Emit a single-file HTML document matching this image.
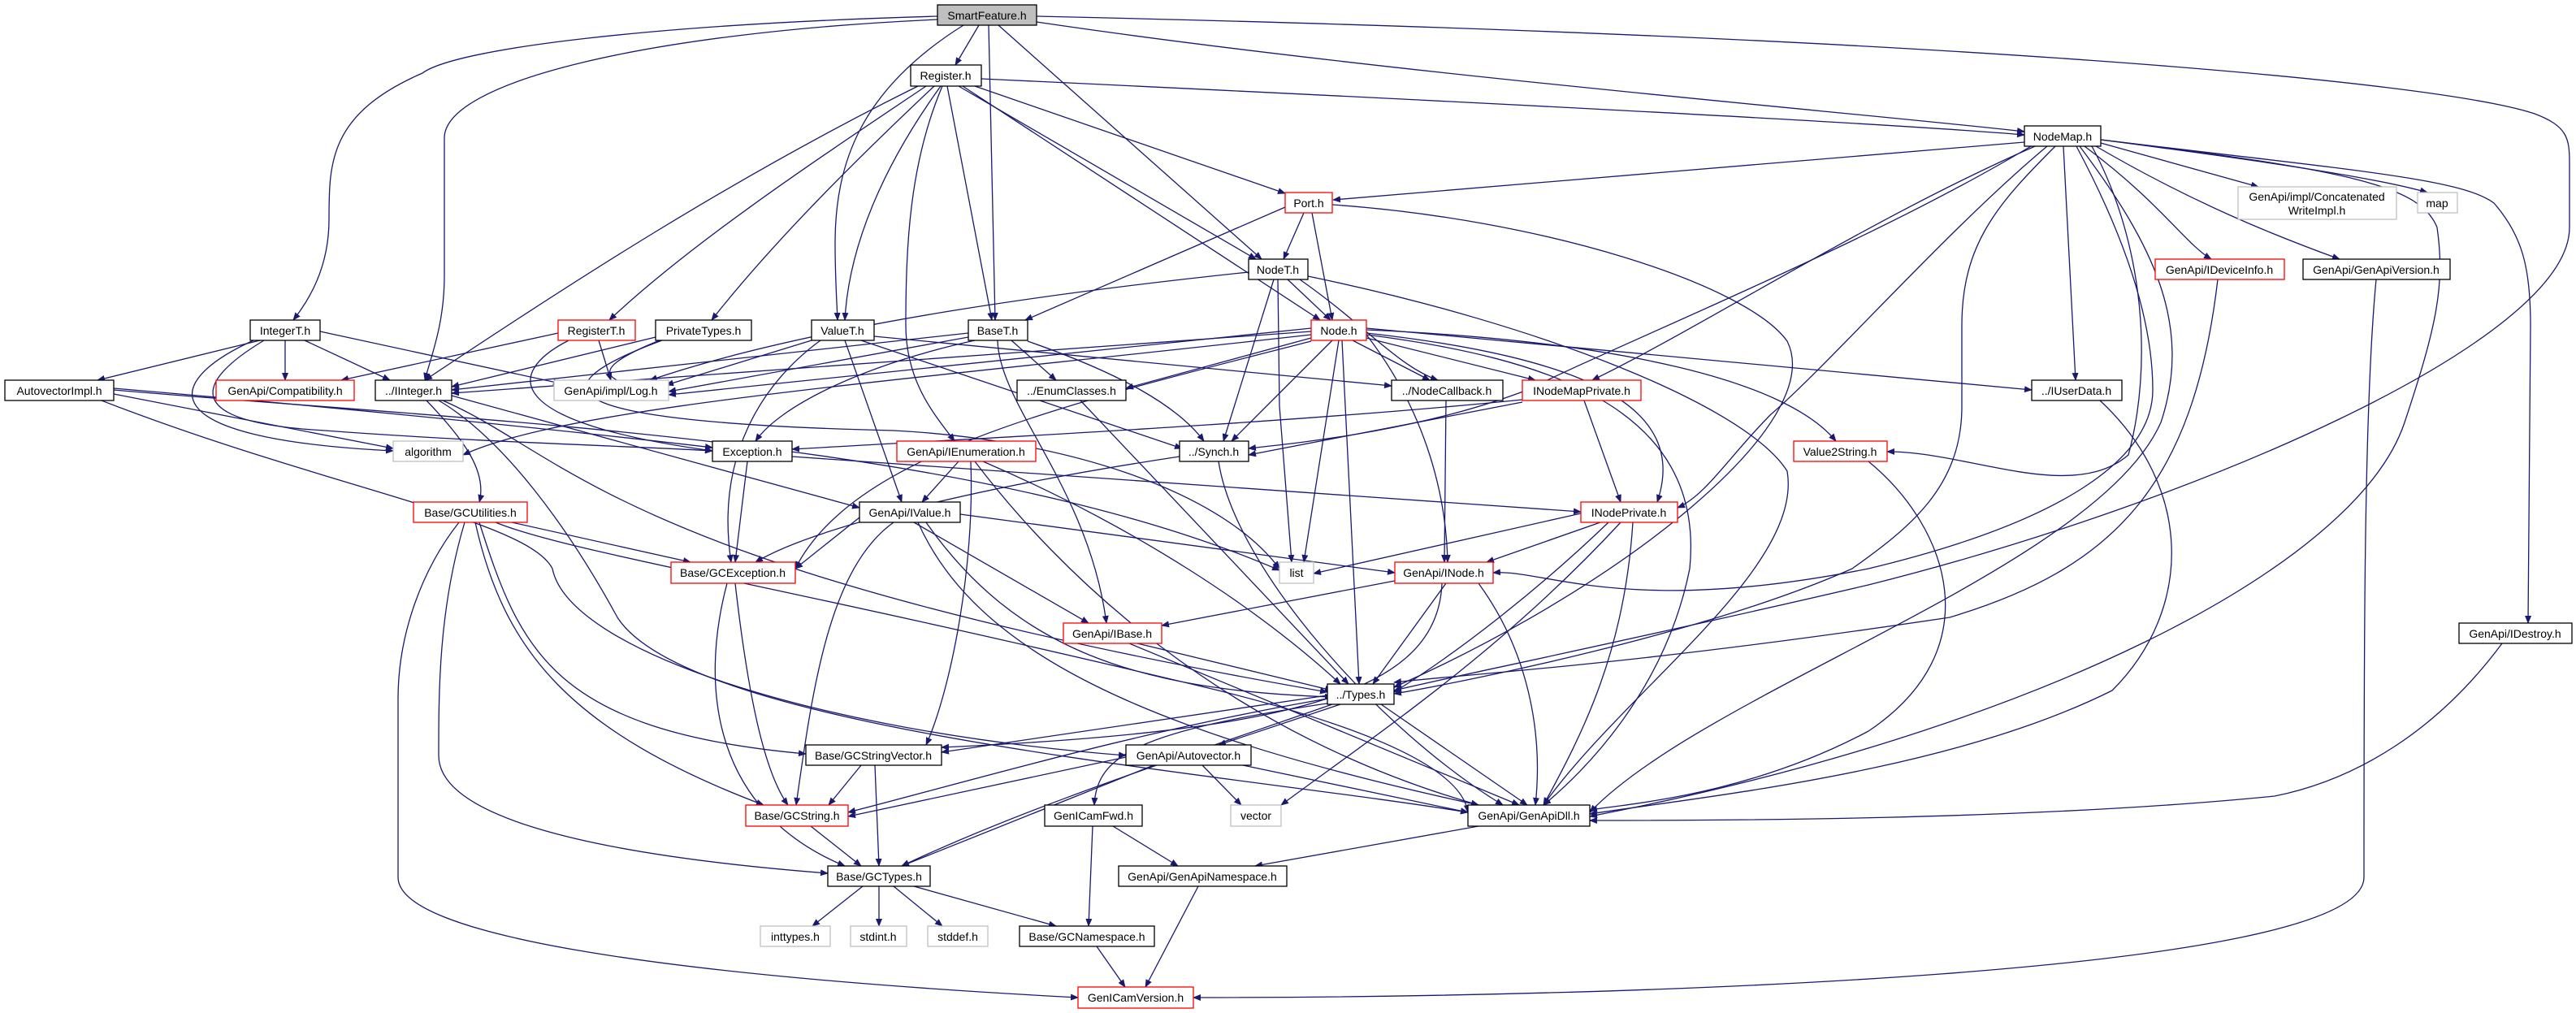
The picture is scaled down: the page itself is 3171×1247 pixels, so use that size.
<!DOCTYPE html>
<html><head><meta charset="utf-8"><style>
html,body{margin:0;padding:0;background:#fff;}
svg{display:block;}
text{font-family:"Liberation Sans",sans-serif;font-size:14px;fill:#000;}
.e{fill:none;stroke:#191970;stroke-width:1.3;marker-end:url(#a);}
.n{fill:#fff;stroke:#000;stroke-width:1.3;}
.g{fill:#fff;stroke:#bfbfbf;stroke-width:1.3;}
.r{fill:#fff;stroke:#ff0000;stroke-width:1.3;}
</style></head><body>
<svg width="3171" height="1247" viewBox="0 0 3171 1247" xmlns="http://www.w3.org/2000/svg">
<defs><marker id="a" markerWidth="10" markerHeight="8" refX="9" refY="4" orient="auto" markerUnits="userSpaceOnUse"><path d="M0,0 L10,4 L0,8 z" fill="#191970"/></marker></defs>
<g>
<!-- SmartFeature -->
<path class="e" d="M1154,20 C800,30 560,60 520,90 C405,140 405,200 405,270 C405,330 380,370 361,394"/>
<path class="e" d="M1154,24 C800,40 547,100 547,170 L547,340 C547,400 530,440 523,468"/>
<path class="e" d="M1205,31 L1176,80"/>
<path class="e" d="M1186,31 C1060,110 1028,200 1028,300 C1028,340 1030,370 1031,394"/>
<path class="e" d="M1217,31 L1225,394"/>
<path class="e" d="M1229,31 L1553,319"/>
<path class="e" d="M1276,27 C1700,90 2300,140 2492,162"/>
<path class="e" d="M1276,20 C2400,45 3000,100 3120,140 C3160,155 3163,170 3163,200 L3163,280 C3163,420 2700,620 2300,720 C2000,790 1800,830 1716,850"/>
<!-- Register -->
<path class="e" d="M1208,97 C1700,120 2300,150 2492,166"/>
<path class="e" d="M1130,106 C900,220 700,350 523,468"/>
<path class="e" d="M1140,106 C1000,200 850,300 750,394"/>
<path class="e" d="M1150,106 C1050,200 950,300 876,394"/>
<path class="e" d="M1158,106 C1090,200 1045,300 1040,394"/>
<path class="e" d="M1160,106 C1120,200 1115,300 1115,400 C1115,470 1150,510 1175,543"/>
<path class="e" d="M1166,106 L1221,394"/>
<path class="e" d="M1180,106 L1546,319"/>
<path class="e" d="M1185,106 L1625,394"/>
<path class="e" d="M1200,106 L1582,238"/>
<!-- NodeMap -->
<path class="e" d="M2492,175 L1641,246"/>
<path class="e" d="M2505,180 C2300,270 2100,400 1960,468"/>
<path class="e" d="M2500,180 C2300,300 2000,420 1880,480 C1750,530 1600,545 1537,552"/>
<path class="e" d="M2540,180 L2555,468"/>
<path class="e" d="M2575,180 C2640,300 2650,450 2620,560 C2550,620 2420,555 2323,556"/>
<path class="e" d="M2520,180 C2400,280 2250,450 2180,510 C2130,560 2100,610 2065,625"/>
<path class="e" d="M2530,180 C2460,250 2415,300 2415,400 L2415,500 C2415,600 2350,650 2280,700 C2100,780 1800,840 1716,854"/>
<path class="e" d="M2556,180 C2620,300 2650,400 2650,480 C2650,560 2550,640 2300,700 C2000,760 1900,700 1838,705"/>
<path class="e" d="M2560,180 C2650,300 2700,400 2660,520 C2580,700 2100,850 1957,1000"/>
<path class="e" d="M2566,180 C2660,250 2690,300 2722,319"/>
<path class="e" d="M2580,180 C2700,250 2800,290 2880,319"/>
<path class="e" d="M2586,176 L2780,230"/>
<path class="e" d="M2586,172 C2800,200 2930,220 2988,237"/>
<path class="e" d="M2586,172 C2900,210 3030,220 3070,250 C3105,290 3115,330 3115,400 L3112,767"/>
<path class="e" d="M2586,172 C2900,210 2980,230 3000,280 C3010,350 3000,400 2960,520 C2900,700 2500,900 1957,1005"/>
<!-- Port -->
<path class="e" d="M1582,255 L1262,394"/>
<path class="e" d="M1605,262 L1580,319"/>
<path class="e" d="M1615,262 L1640,394"/>
<path class="e" d="M1640,252 C1900,270 2150,350 2200,420 C2250,520 2000,720 1716,846"/>
<!-- NodeT -->
<path class="e" d="M1537,335 C1300,360 1000,400 800,468"/>
<path class="e" d="M1573,344 L1575,500 L1590,692"/>
<path class="e" d="M1568,344 L1506,543"/>
<path class="e" d="M1585,344 L1638,394"/>
<path class="e" d="M1600,344 C1680,400 1720,450 1770,468"/>
<path class="e" d="M1610,340 C1900,400 2150,500 2200,580 C2220,700 2000,850 1900,991"/>
<!-- IntegerT -->
<path class="e" d="M320,419 L120,468"/>
<path class="e" d="M351,419 L351,468"/>
<path class="e" d="M375,419 L480,468"/>
<path class="e" d="M394,408 L690,472"/>
<path class="e" d="M312,419 C200,470 180,540 484,555"/>
<path class="e" d="M325,419 C240,470 220,520 400,530 C600,545 800,550 877,555"/>
<!-- RegisterT -->
<path class="e" d="M687,410 L420,468"/>
<path class="e" d="M737,419 L752,468"/>
<path class="e" d="M700,419 C620,460 620,520 877,555"/>
<!-- PrivateTypes -->
<path class="e" d="M807,415 L556,476"/>
<path class="e" d="M812,419 C760,440 700,470 823,480"/>
<path class="e" d="M815,419 C650,480 680,520 1100,530 C1300,540 1500,600 1575,700"/>
<!-- ValueT -->
<path class="e" d="M999,419 L820,474"/>
<path class="e" d="M1010,419 C940,470 880,560 900,692"/>
<path class="e" d="M1040,419 L1110,618"/>
<path class="e" d="M1060,419 L1455,552"/>
<path class="e" d="M1076,414 L1713,475"/>
<!-- BaseT -->
<path class="e" d="M1192,410 L556,480"/>
<path class="e" d="M1192,415 L823,482"/>
<path class="e" d="M1200,419 C1060,450 960,500 930,543"/>
<path class="e" d="M1245,419 L1300,468"/>
<path class="e" d="M1265,420 C1380,460 1450,500 1482,543"/>
<path class="e" d="M1228,419 C1230,500 1340,600 1362,767"/>
<!-- Node -->
<path class="e" d="M1614,408 L556,484"/>
<path class="e" d="M1614,404 L823,486"/>
<path class="e" d="M1614,412 C1100,470 700,500 570,560"/>
<path class="e" d="M1614,416 L1386,478"/>
<path class="e" d="M1665,419 L1760,468"/>
<path class="e" d="M1682,416 L1890,468"/>
<path class="e" d="M1640,419 L1516,543"/>
<path class="e" d="M1648,419 L1605,692"/>
<path class="e" d="M1652,419 L1673,842"/>
<path class="e" d="M1614,420 C1300,500 1050,560 979,700"/>
<path class="e" d="M1682,406 C2000,420 2200,470 2260,543"/>
<path class="e" d="M1682,410 C1950,440 2080,500 2040,618"/>
<path class="e" d="M1682,412 C1750,500 1780,600 1782,692"/>
<path class="e" d="M1682,404 L2501,480"/>
<path class="e" d="M1682,412 C1900,440 2100,500 2080,700 C2050,850 1950,950 1900,991"/>
<!-- AutovectorImpl -->
<path class="e" d="M140,485 L484,552"/>
<path class="e" d="M140,478 C400,500 700,530 877,551"/>
<path class="e" d="M140,480 C600,520 1200,540 1575,702"/>
<path class="e" d="M125,493 C400,600 650,640 680,700 C700,800 1000,900 1386,930"/>
<!-- IInteger -->
<path class="e" d="M525,493 C570,540 600,580 590,618"/>
<path class="e" d="M556,487 L1058,625"/>
<path class="e" d="M545,493 C700,560 760,700 1634,852"/>
<path class="e" d="M540,493 C620,540 700,650 760,760 C850,900 1500,950 1807,1000"/>
<!-- GCUtilities -->
<path class="e" d="M630,643 L850,692"/>
<path class="e" d="M590,643 C640,800 680,900 992,928"/>
<path class="e" d="M585,643 C620,800 700,900 940,991"/>
<path class="e" d="M572,643 C540,750 540,850 540,930 C540,1000 700,1050 1019,1075"/>
<path class="e" d="M565,643 C520,700 490,780 490,860 L490,1080 C490,1150 800,1200 1327,1228"/>
<path class="e" d="M610,643 C700,680 960,720 1500,850 C1700,900 1800,950 1807,1000"/>
<!-- Exception -->
<path class="e" d="M920,568 L905,692"/>
<path class="e" d="M975,562 L1946,630"/>
<!-- EnumClasses, NodeCallback, INodeMapPrivate, IUserData -->
<path class="e" d="M1330,493 L1660,842"/>
<path class="e" d="M1780,493 L1778,692"/>
<path class="e" d="M1874,495 L1537,560"/>
<path class="e" d="M1874,492 C1600,520 1200,540 975,553"/>
<path class="e" d="M1950,493 L1995,618"/>
<path class="e" d="M2585,493 C2700,600 2700,750 2600,850 C2400,950 2100,980 1957,1002"/>
<!-- IEnumeration -->
<path class="e" d="M1180,568 L1135,618"/>
<path class="e" d="M1195,568 C1200,700 1170,850 1140,917"/>
<path class="e" d="M1210,568 C1400,650 1550,750 1650,842"/>
<path class="e" d="M1200,568 C1300,700 1500,900 1820,991"/>
<!-- Synch -->
<path class="e" d="M1452,562 C1200,600 1000,650 930,692"/>
<path class="e" d="M1500,568 C1520,700 1700,900 1850,991"/>
<!-- Value2String -->
<path class="e" d="M2300,568 C2400,650 2450,800 2300,900 C2150,980 2000,990 1957,997"/>
<!-- IValue -->
<path class="e" d="M1058,637 L979,700"/>
<path class="e" d="M1182,633 L1717,705"/>
<path class="e" d="M1125,643 L1340,767"/>
<path class="e" d="M1140,643 C1250,800 1400,850 1640,858"/>
<path class="e" d="M1100,643 C1020,700 1000,850 980,991"/>
<path class="e" d="M1130,643 C1200,800 1400,900 1820,991"/>
<!-- INodePrivate -->
<path class="e" d="M1946,632 L1617,706"/>
<path class="e" d="M1970,643 L1830,692"/>
<path class="e" d="M1980,643 C1900,720 1800,800 1716,852"/>
<path class="e" d="M1995,643 C1850,800 1700,900 1577,991"/>
<path class="e" d="M2010,643 C2000,800 1950,900 1900,991"/>
<!-- GCException -->
<path class="e" d="M905,718 C920,850 940,950 970,991"/>
<path class="e" d="M895,718 C860,850 880,1000 1040,1066"/>
<!-- INode -->
<path class="e" d="M1717,715 L1430,770"/>
<path class="e" d="M1780,718 L1690,842"/>
<path class="e" d="M1775,718 C1770,850 1600,900 1159,920"/>
<path class="e" d="M1820,718 C1880,800 1900,900 1890,991"/>
<!-- IBase -->
<path class="e" d="M1400,792 L1640,850"/>
<path class="e" d="M1390,792 L1870,991"/>
<!-- IDestroy, GenApiVersion, IDeviceInfo -->
<path class="e" d="M3080,792 C3000,900 2900,960 2800,980 C2500,1010 2100,1010 1957,1010"/>
<path class="e" d="M2925,344 C2910,500 2910,800 2910,1080 C2910,1200 2000,1228 1469,1228"/>
<path class="e" d="M2730,344 C2700,600 2600,700 2400,760 C2000,820 1800,830 1716,840"/>
<!-- Types -->
<path class="e" d="M1634,856 L1159,926"/>
<path class="e" d="M1650,867 L1500,917"/>
<path class="e" d="M1634,860 C1400,900 1200,960 1044,1000"/>
<path class="e" d="M1640,865 C1400,900 1350,930 1347,991"/>
<path class="e" d="M1640,867 C1400,950 1250,1000 1110,1066"/>
<path class="e" d="M1700,867 L1880,991"/>
<!-- lower -->
<path class="e" d="M1060,942 L1020,991"/>
<path class="e" d="M1077,942 L1082,1066"/>
<path class="e" d="M1386,932 L1044,1005"/>
<path class="e" d="M1420,942 C1300,990 1200,1030 1110,1066"/>
<path class="e" d="M1480,942 L1528,991"/>
<path class="e" d="M1530,942 L1807,1000"/>
<path class="e" d="M998,1017 L1060,1066"/>
<path class="e" d="M1345,1017 L1340,1140"/>
<path class="e" d="M1370,1017 L1450,1066"/>
<path class="e" d="M1820,1017 L1545,1066"/>
<path class="e" d="M1062,1091 L1000,1140"/>
<path class="e" d="M1082,1091 L1082,1140"/>
<path class="e" d="M1100,1091 L1160,1140"/>
<path class="e" d="M1125,1091 L1300,1140"/>
<path class="e" d="M1475,1091 L1410,1215"/>
<path class="e" d="M1350,1165 L1385,1215"/>
</g>
<g>
<rect x="1154" y="6" width="122" height="25" fill="#bfbfbf" stroke="#000" stroke-width="1.3"/><text x="1215" y="24" text-anchor="middle">SmartFeature.h</text>
<rect class="n" x="1121" y="80" width="87" height="26"/><text x="1164" y="98" text-anchor="middle">Register.h</text>
<rect class="n" x="2492" y="155" width="94" height="25"/><text x="2539" y="173" text-anchor="middle">NodeMap.h</text>
<rect class="r" x="1582" y="237" width="58" height="25"/><text x="1611" y="255" text-anchor="middle">Port.h</text>
<rect class="g" x="2755" y="230" width="195" height="40"/><text x="2852" y="247" text-anchor="middle">GenApi/impl/Concatenated</text><text x="2852" y="264" text-anchor="middle">WriteImpl.h</text>
<rect class="g" x="2976" y="237" width="49" height="25"/><text x="3000" y="255" text-anchor="middle">map</text>
<rect class="n" x="1537" y="319" width="73" height="25"/><text x="1573" y="337" text-anchor="middle">NodeT.h</text>
<rect class="r" x="2653" y="319" width="159" height="25"/><text x="2732" y="337" text-anchor="middle">GenApi/IDeviceInfo.h</text>
<rect class="n" x="2835" y="319" width="181" height="25"/><text x="2925" y="337" text-anchor="middle">GenApi/GenApiVersion.h</text>
<rect class="n" x="308" y="394" width="86" height="25"/><text x="351" y="412" text-anchor="middle">IntegerT.h</text>
<rect class="r" x="687" y="394" width="95" height="25"/><text x="734" y="412" text-anchor="middle">RegisterT.h</text>
<rect class="n" x="807" y="394" width="118" height="25"/><text x="866" y="412" text-anchor="middle">PrivateTypes.h</text>
<rect class="n" x="999" y="394" width="77" height="25"/><text x="1037" y="412" text-anchor="middle">ValueT.h</text>
<rect class="n" x="1192" y="394" width="73" height="25"/><text x="1228" y="412" text-anchor="middle">BaseT.h</text>
<rect class="r" x="1614" y="394" width="68" height="25"/><text x="1648" y="412" text-anchor="middle">Node.h</text>
<rect class="n" x="6" y="468" width="134" height="25"/><text x="73" y="486" text-anchor="middle">AutovectorImpl.h</text>
<rect class="r" x="266" y="468" width="170" height="25"/><text x="351" y="486" text-anchor="middle">GenApi/Compatibility.h</text>
<rect class="n" x="462" y="468" width="94" height="25"/><text x="509" y="486" text-anchor="middle">../IInteger.h</text>
<rect class="g" x="682" y="468" width="141" height="25"/><text x="752" y="486" text-anchor="middle">GenApi/impl/Log.h</text>
<rect class="n" x="1252" y="468" width="134" height="25"/><text x="1319" y="486" text-anchor="middle">../EnumClasses.h</text>
<rect class="n" x="1713" y="468" width="137" height="25"/><text x="1781" y="486" text-anchor="middle">../NodeCallback.h</text>
<rect class="r" x="1874" y="468" width="146" height="25"/><text x="1947" y="486" text-anchor="middle">INodeMapPrivate.h</text>
<rect class="n" x="2501" y="468" width="111" height="25"/><text x="2556" y="486" text-anchor="middle">../IUserData.h</text>
<rect class="g" x="484" y="543" width="86" height="25"/><text x="527" y="561" text-anchor="middle">algorithm</text>
<rect class="n" x="877" y="543" width="98" height="25"/><text x="926" y="561" text-anchor="middle">Exception.h</text>
<rect class="r" x="1104" y="543" width="171" height="25"/><text x="1189" y="561" text-anchor="middle">GenApi/IEnumeration.h</text>
<rect class="n" x="1452" y="543" width="85" height="25"/><text x="1494" y="561" text-anchor="middle">../Synch.h</text>
<rect class="r" x="2208" y="543" width="115" height="25"/><text x="2265" y="561" text-anchor="middle">Value2String.h</text>
<rect class="r" x="509" y="618" width="140" height="25"/><text x="579" y="636" text-anchor="middle">Base/GCUtilities.h</text>
<rect class="n" x="1058" y="618" width="124" height="25"/><text x="1120" y="636" text-anchor="middle">GenApi/IValue.h</text>
<rect class="r" x="1946" y="618" width="119" height="25"/><text x="2005" y="636" text-anchor="middle">INodePrivate.h</text>
<rect class="r" x="826" y="692" width="153" height="26"/><text x="902" y="710" text-anchor="middle">Base/GCException.h</text>
<rect class="g" x="1575" y="692" width="42" height="26"/><text x="1596" y="710" text-anchor="middle">list</text>
<rect class="r" x="1717" y="692" width="121" height="26"/><text x="1777" y="710" text-anchor="middle">GenApi/INode.h</text>
<rect class="r" x="1309" y="767" width="121" height="25"/><text x="1369" y="785" text-anchor="middle">GenApi/IBase.h</text>
<rect class="n" x="3027" y="767" width="139" height="25"/><text x="3096" y="785" text-anchor="middle">GenApi/IDestroy.h</text>
<rect class="n" x="1634" y="842" width="82" height="25"/><text x="1675" y="860" text-anchor="middle">../Types.h</text>
<rect class="n" x="992" y="917" width="167" height="25"/><text x="1075" y="935" text-anchor="middle">Base/GCStringVector.h</text>
<rect class="n" x="1386" y="917" width="154" height="25"/><text x="1463" y="935" text-anchor="middle">GenApi/Autovector.h</text>
<rect class="r" x="918" y="991" width="126" height="26"/><text x="981" y="1009" text-anchor="middle">Base/GCString.h</text>
<rect class="n" x="1286" y="991" width="120" height="26"/><text x="1346" y="1009" text-anchor="middle">GenICamFwd.h</text>
<rect class="g" x="1515" y="991" width="62" height="26"/><text x="1546" y="1009" text-anchor="middle">vector</text>
<rect class="n" x="1807" y="991" width="150" height="26"/><text x="1882" y="1009" text-anchor="middle">GenApi/GenApiDll.h</text>
<rect class="n" x="1019" y="1066" width="126" height="25"/><text x="1082" y="1084" text-anchor="middle">Base/GCTypes.h</text>
<rect class="n" x="1377" y="1066" width="207" height="25"/><text x="1480" y="1084" text-anchor="middle">GenApi/GenApiNamespace.h</text>
<rect class="g" x="936" y="1140" width="86" height="25"/><text x="979" y="1158" text-anchor="middle">inttypes.h</text>
<rect class="g" x="1047" y="1140" width="69" height="25"/><text x="1081" y="1158" text-anchor="middle">stdint.h</text>
<rect class="g" x="1142" y="1140" width="74" height="25"/><text x="1179" y="1158" text-anchor="middle">stddef.h</text>
<rect class="n" x="1255" y="1140" width="166" height="25"/><text x="1338" y="1158" text-anchor="middle">Base/GCNamespace.h</text>
<rect class="r" x="1327" y="1215" width="142" height="26"/><text x="1398" y="1233" text-anchor="middle">GenICamVersion.h</text>
</g>
</svg>
</body></html>
